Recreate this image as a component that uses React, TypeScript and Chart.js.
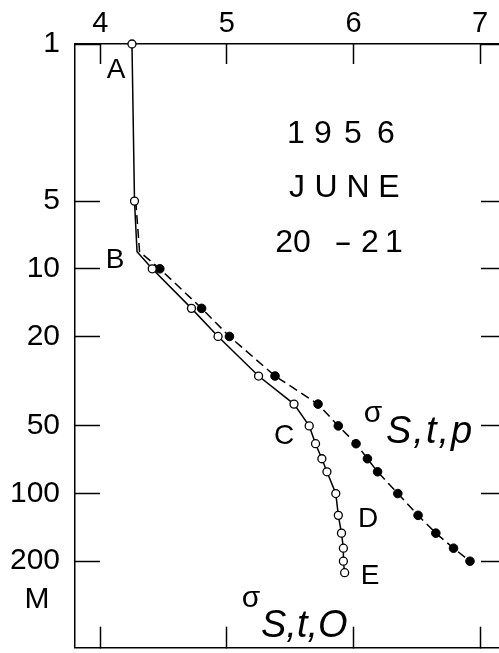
import React, { useEffect, useRef } from 'react';
import { Chart, registerables } from 'chart.js';

Chart.register(...registerables);

// ---- data ----
const xTicks = [4, 5, 6, 7];
const depthTicks = [1, 5, 10, 20, 50, 100, 200];

// sigma S,t,0 (open circles, solid line)
const sigma0X = [4.25, 4.27, 4.29, 4.41, 4.72, 4.93, 5.25, 5.53, 5.65, 5.70, 5.75, 5.79, 5.86, 5.88, 5.905, 5.92, 5.92, 5.93];
const sigma0Depth = [1, 5, 8.4, 10, 15, 20, 30, 40, 50, 60, 70, 80, 100, 125, 150, 175, 200, 225];
const sigma0Marked = [1, 1, 0, 1, 1, 1, 1, 1, 1, 1, 1, 1, 1, 1, 1, 1, 1, 1];

// sigma S,t,p (filled circles, dashed line)
const sigmaPX = [4.28, 4.31, 4.47, 4.80, 5.02, 5.38, 5.72, 5.88, 6.02, 6.11, 6.19, 6.35, 6.51, 6.65, 6.79, 6.92];
const sigmaPDepth = [5, 8.4, 10, 15, 20, 30, 40, 50, 60, 70, 80, 100, 125, 150, 175, 200];
const sigmaPMarked = [0, 0, 1, 1, 1, 1, 1, 1, 1, 1, 1, 1, 1, 1, 1, 1];

const X_MIN = 3.8;
const X_MAX = 7.165;
const D_MIN = 1;
const D_MAX = 485;

const FONT = "'Liberation Sans', Arial, sans-serif";

const textPlugin = {
  id: 'texts',
  afterDraw(chart: any) {
    const ctx = chart.ctx as CanvasRenderingContext2D;
    ctx.save();
    ctx.fillStyle = '#000';
    ctx.textAlign = 'center';
    ctx.textBaseline = 'middle';

    // point letters
    ctx.font = `28px ${FONT}`;
    ctx.fillText('A', 116, 70);
    ctx.fillText('B', 115, 260);
    ctx.fillText('C', 284, 436);
    ctx.fillText('D', 368, 519);
    ctx.fillText('E', 370, 576);

    // unit
    ctx.font = `30px ${FONT}`;
    ctx.fillText('M', 37, 600);

    // date block
    ctx.font = `32px ${FONT}`;
    const y1 = '1956'.split('');
    const c1 = [296, 323, 353, 386];
    y1.forEach((ch, i) => ctx.fillText(ch, c1[i], 134));
    const j = 'JUNE'.split('');
    const c2 = [297, 326, 358, 389];
    j.forEach((ch, i) => ctx.fillText(ch, c2[i], 188));
    ctx.fillText('20', 293, 243);
    ctx.save();
    ctx.translate(343, 243);
    ctx.scale(1.7, 1);
    ctx.fillText('-', 0, 0);
    ctx.restore();
    ctx.fillText('2', 370, 243);
    ctx.fillText('1', 394, 243);

    // sigma labels
    ctx.font = `30px ${FONT}`;
    ctx.fillText('σ', 373, 414);
    ctx.fillText('σ', 251, 599);
    ctx.textAlign = 'left';
    ctx.textBaseline = 'alphabetic';
    ctx.font = `italic 38px ${FONT}`;
    (ctx as any).letterSpacing = '2px';
    ctx.fillText('S,t,p', 386, 443);
    (ctx as any).letterSpacing = '0px';
    ctx.fillText('S,t,O', 261, 637);
    ctx.restore();
  },
};

export default function App() {
  const ref = useRef<HTMLCanvasElement | null>(null);

  useEffect(() => {
    if (!ref.current) return;
    const zeroPad = (s: any) => {
      s.paddingTop = 0;
      s.paddingBottom = 0;
      s.paddingLeft = 0;
      s.paddingRight = 0;
    };
    const gridCfg = (len: number) => ({
      display: true,
      drawOnChartArea: false,
      drawTicks: true,
      tickLength: len,
      tickWidth: 1.5,
      tickColor: '#000',
    });
    const borderCfg = { display: true, color: '#000', width: 1.5 };

    const chart = new Chart(ref.current, {
      type: 'scatter',
      data: {
        datasets: [
          {
            label: 'σS,t,0',
            data: sigma0X.map((x, i) => ({ x, y: sigma0Depth[i] })),
            showLine: true,
            clip: false,
            borderColor: '#000',
            borderWidth: 1.5,
            backgroundColor: '#fff',
            pointBackgroundColor: '#fff',
            pointBorderColor: '#000',
            pointBorderWidth: 1.3,
            pointRadius: sigma0Marked.map((m) => (m ? 4 : 0)),
            tension: 0,
          },
          {
            label: 'σS,t,p',
            data: sigmaPX.map((x, i) => ({ x, y: sigmaPDepth[i] })),
            showLine: true,
            clip: false,
            borderColor: '#000',
            borderWidth: 1.5,
            borderDash: [9, 5],
            backgroundColor: '#000',
            pointBackgroundColor: '#000',
            pointBorderColor: '#000',
            pointBorderWidth: 1,
            pointRadius: sigmaPMarked.map((m) => (m ? 4.3 : 0)),
            tension: 0,
          },
        ],
      },
      options: {
        animation: false,
        responsive: false,
        devicePixelRatio: 1,
        events: [],
        layout: { padding: 0 },
        plugins: {
          legend: { display: false },
          tooltip: { enabled: false },
          title: { display: false },
        },
        scales: {
          x: {
            type: 'linear',
            position: 'top',
            min: X_MIN,
            max: X_MAX,
            afterBuildTicks: (s: any) => {
              s.ticks = xTicks.map((v) => ({ value: v }));
            },
            afterFit: (s: any) => {
              s.height = 44;
              zeroPad(s);
            },
            grid: gridCfg(-20),
            border: borderCfg,
            ticks: {
              color: '#000',
              font: { family: FONT, size: 29 },
              padding: 23,
              autoSkip: false,
              maxRotation: 0,
              callback: (v: any) => String(v),
            },
          },
          x2: {
            type: 'linear',
            position: 'bottom',
            min: X_MIN,
            max: X_MAX,
            afterBuildTicks: (s: any) => {
              s.ticks = xTicks.map((v) => ({ value: v }));
            },
            afterFit: (s: any) => {
              s.height = 2;
              zeroPad(s);
            },
            grid: gridCfg(-21),
            border: borderCfg,
            ticks: { display: false },
          },
          y: {
            type: 'logarithmic',
            position: 'left',
            reverse: true,
            min: D_MIN,
            max: D_MAX,
            afterBuildTicks: (s: any) => {
              s.ticks = depthTicks.map((v) => ({ value: v }));
            },
            afterFit: (s: any) => {
              s.width = 75;
              zeroPad(s);
            },
            grid: gridCfg(-25),
            border: borderCfg,
            ticks: {
              color: '#000',
              font: { family: FONT, size: 30 },
              padding: 40,
              autoSkip: false,
              callback: (v: any) => String(v),
            },
          },
          y2: {
            type: 'logarithmic',
            position: 'right',
            reverse: true,
            min: D_MIN,
            max: D_MAX,
            afterBuildTicks: (s: any) => {
              s.ticks = depthTicks.map((v) => ({ value: v }));
            },
            afterFit: (s: any) => {
              s.width = 9;
              zeroPad(s);
            },
            grid: gridCfg(-20),
            border: borderCfg,
            ticks: { display: false },
          },
        },
      } as any,
      plugins: [textPlugin],
    });
    return () => chart.destroy();
  }, []);

  return (
    <div
      style={{
        position: 'fixed',
        left: 0,
        top: 0,
        width: 499,
        height: 653,
        overflow: 'hidden',
        background: '#fff',
      }}
    >
      <canvas ref={ref} width={510} height={653} style={{ display: 'block', width: 510, height: 653 }} />
    </div>
  );
}
